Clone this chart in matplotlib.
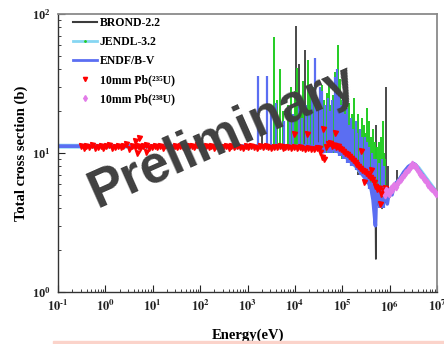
import numpy as np
import matplotlib
matplotlib.use('Agg')
import matplotlib.pyplot as plt
from matplotlib.lines import Line2D
from matplotlib.patches import Rectangle
from matplotlib.ticker import FixedFormatter

plt.rcParams['font.family'] = ['Liberation Serif', 'DejaVu Serif']
plt.rcParams['font.weight'] = 'bold'
plt.rcParams['mathtext.fontset'] = 'stix'
plt.rcParams['mathtext.default'] = 'bf'

# evaluated data, background curves (log10 E, sigma in b)
brond_logE = [-1, 4.45, 4.55, 4.65, 4.75, 4.85, 5.0, 5.1, 5.2, 5.3, 5.4, 5.5, 5.6,
              5.66, 5.70, 5.71, 5.72, 5.76, 5.80, 5.84, 5.88, 5.92, 5.96,
              6.0, 6.05, 6.1, 6.2, 6.3, 6.4, 6.48, 6.56, 6.65, 6.75, 6.85, 6.95, 7.0]
brond_xs = [11.2, 11.2, 10.5, 10.8, 10.2, 10.6, 9.8, 9.2, 8.6, 8.0, 7.3, 6.7, 6.0,
            5.5, 5.0, 1.73, 4.8, 4.2, 4.6, 4.0, 5.2, 4.4, 5.6,
            4.8, 5.8, 6.0, 6.5, 7.2, 7.9, 8.3, 8.0, 7.4, 6.6, 6.0, 5.4, 5.1]

jendl_logE = [-1, 4.5, 4.7, 4.9, 5.1, 5.3, 5.5, 5.7, 5.8, 5.9, 6.0, 6.2, 6.4, 6.5, 6.6, 6.8, 7.0]
jendl_xs = [11.2, 11.0, 10.8, 10.4, 9.3, 8.0, 6.6, 5.0, 4.6, 5.1, 5.3, 6.3, 7.9, 8.3, 7.8, 6.3, 5.1]

endf_logE = [-1, 4.30, 4.40, 4.50, 4.60, 4.70, 4.80, 4.90, 5.00,
             5.10, 5.20, 5.30, 5.40, 5.50, 5.60, 5.65, 5.70, 5.72,
             5.76, 5.80, 5.85, 5.90, 5.95, 6.00, 6.05, 6.10, 6.20,
             6.30, 6.40, 6.50, 6.55, 6.60, 6.70, 6.80, 6.90, 7.00]
endf_xs = [11.2, 11.2, 11.0, 11.6, 10.2, 11.8, 10.5, 11.6, 10.0,
           9.4, 8.6, 8.0, 7.2, 6.5, 5.8, 4.6, 3.0, 5.2,
           4.8, 5.2, 4.2, 5.4, 4.3, 5.5, 5.0, 5.9, 6.4,
           7.3, 8.0, 8.4, 8.2, 7.7, 6.9, 6.2, 5.6, 5.2]

# resonance peaks (log10 E, bottom, top)
brond_pk_logE = [3.30, 3.75, 4.02, 4.09, 4.16, 4.22, 4.31, 4.40, 4.48, 4.62, 4.70,
                 4.82, 4.95, 5.05, 5.20, 5.33, 5.48, 5.60, 5.71, 5.80, 5.92, 5.97, 6.15]
brond_pk_lo = [11, 11, 11, 11, 11, 11, 11, 11, 11, 10, 10,
               10, 10, 9, 8, 7, 6.5, 6, 5, 4.5, 5, 5, 6]
brond_pk_hi = [14, 17, 82, 44, 19, 55, 22, 19, 24, 21, 18,
               25, 16, 18, 14, 12, 11, 10, 16, 9, 30, 8, 7.5]

jendl_pk_logE = [3.55, 3.62, 3.68, 3.74, 3.85, 3.92, 4.00, 4.05, 4.12, 4.18,
                 4.27, 4.32, 4.38, 4.45, 4.52, 4.57, 4.62, 4.67, 4.71, 4.76,
                 4.80, 4.84, 4.88, 4.91, 4.95, 4.99, 5.03, 5.07, 5.11, 5.15,
                 5.20, 5.24, 5.28, 5.33, 5.37, 5.41, 5.45, 5.49, 5.53, 5.57,
                 5.61, 5.65, 5.69, 5.74, 5.78, 5.82, 5.85, 5.88, 5.91]
jendl_pk_lo = [11, 11, 11, 11, 11, 11, 11, 11, 11, 11,
               11, 11, 11, 11, 10, 10, 10, 10, 10, 10,
               10, 10, 10, 10, 10, 9, 9, 9, 9, 8.5,
               8.5, 8, 8, 7.5, 7.5, 7, 7, 6.5, 6.5, 6,
               6, 5.5, 5, 5, 4.5, 4.5, 5, 5, 5]
jendl_pk_hi = [68, 24, 40, 20, 22, 30, 28, 41, 24, 33,
               47, 26, 30, 22, 28, 31, 24, 27, 33, 22,
               26, 38, 29, 60, 34, 24, 22, 28, 20, 23,
               19, 25, 17, 19, 15, 18, 16, 14, 21, 17,
               13, 15, 12, 11, 12, 13, 17, 10, 9]

endf_pk_logE = [3.23, 3.41, 3.50, 3.60, 3.78, 3.90, 3.97, 4.08, 4.15, 4.23,
                4.30, 4.36, 4.42, 4.47, 4.53, 4.58, 4.64, 4.69, 4.74, 4.79,
                4.84, 4.88, 4.93, 4.97, 5.02, 5.06, 5.10, 5.14, 5.19, 5.23,
                5.28, 5.32, 5.37, 5.42, 5.47, 5.52, 5.57, 5.62, 5.67, 5.72,
                5.77, 5.83, 5.88]
endf_pk_lo = [11, 11, 11, 11, 11, 11, 11, 11, 11, 11,
              11, 11, 11, 11, 10, 10, 10, 10, 10, 10,
              10, 10, 9.5, 9.5, 9, 9, 8.5, 8.5, 8, 8,
              7.5, 7.5, 7, 7, 6.5, 6, 5.5, 5, 4.5, 4,
              4, 4, 4]
endf_pk_hi = [36, 36, 20, 23, 17, 21, 19, 26, 18, 22,
              20, 28, 48, 25, 30, 28, 22, 25, 20, 24,
              35, 40, 28, 22, 26, 19, 21, 16, 18, 15,
              17, 14, 15, 13, 13, 12, 11, 10, 9, 9,
              8.5, 9, 8]

# measured, 10mm Pb with 235U chamber
u235_logE = [-0.52, -0.46, -0.40, -0.34, -0.28, -0.22, -0.16, -0.10, -0.04, 0.02, 0.08, 0.14,
             0.20, 0.26, 0.32, 0.38, 0.44, 0.50, 0.56, 0.62, 0.68, 0.74, 0.80, 0.86,
             0.92, 0.98, 1.04, 1.10, 1.16, 1.22, 1.28, 1.34, 1.40, 1.46, 1.52, 1.58,
             1.64, 1.70, 1.76, 1.82, 1.88, 1.94, 2.00, 2.06, 2.12, 2.18, 2.24, 2.30,
             2.36, 2.42, 2.48, 2.54, 2.60, 2.66, 2.72, 2.78, 2.84, 2.90, 2.96, 3.02,
             3.08, 3.14, 3.20, 3.26, 3.32, 3.38, 3.44, 3.50, 3.56, 3.62, 3.68, 3.74,
             3.80, 3.86, 3.92, 3.98, 4.04, 4.10, 4.16, 4.22, 4.28, 4.34, 4.40, 4.46,
             4.50, 4.54, 4.58, 4.62, 4.66, 4.70, 4.74, 4.78, 4.82, 4.86, 4.90, 4.94,
             4.98, 5.02, 5.06, 5.10, 5.14, 5.18, 5.22, 5.26, 5.30, 5.34, 5.38, 5.42,
             5.46, 5.50, 5.54, 5.58, 5.62, 5.66, 5.70, 5.74, 5.78, 5.82, 5.86, 5.90,
             0.62, 0.70, 0.66, 0.86, 3.98, 4.25, 4.60, 4.85, 5.40, 5.60, 5.80, 5.45]
u235_xs = [11.3, 10.9, 11.2, 11.0, 11.4, 10.8, 11.1, 11.3, 10.9, 11.2, 11.5, 10.9,
           11.1, 11.3, 11.0, 11.2, 11.6, 10.7, 11.2, 11.0, 11.3, 10.9, 11.2, 11.4,
           10.8, 11.1, 11.3, 11.0, 11.2, 10.9, 11.4, 11.1, 10.9, 11.3, 11.0, 11.2,
           11.1, 10.8, 11.3, 11.2, 11.0, 11.4, 10.9, 11.1, 11.2, 11.0, 11.3, 10.9,
           11.2, 11.1, 11.0, 11.3, 10.9, 11.2, 11.0, 11.3, 11.1, 10.9, 11.2, 11.0,
           11.3, 11.1, 10.9, 11.2, 11.0, 11.2, 11.1, 10.9, 11.1, 11.0, 11.2, 10.8,
           11.0, 11.1, 10.9, 11.0, 10.8, 11.0, 10.9, 10.7, 10.8, 10.6, 10.7, 10.9,
           10.8, 10.2, 9.4, 9.0, 11.0, 11.6, 11.8, 11.2, 11.5, 11.0, 11.2, 10.8,
           10.6, 10.4, 10.0, 9.8, 9.5, 9.2, 8.9, 8.6, 8.3, 8.0, 7.8, 7.6,
           7.4, 7.2, 7.0, 6.7, 6.5, 6.2, 5.8, 5.5, 5.6, 5.1, 5.3, 5.6,
           12.3, 12.9, 10.0, 10.1, 13.8, 13.6, 15.0, 14.0, 10.4, 7.6, 4.3, 6.2]

# measured, 10mm Pb with 238U chamber
u238_logE = [5.90, 5.94, 5.98, 6.02, 6.06, 6.10, 6.14, 6.18, 6.22, 6.26, 6.30, 6.34, 6.38, 6.42,
             6.46, 6.50, 6.54, 6.58, 6.62, 6.66, 6.70, 6.74, 6.78, 6.82, 6.86, 6.90, 6.94, 6.98,
             5.92, 6.00, 6.08, 6.16, 6.24, 6.32, 6.40, 6.48, 6.56, 6.64, 6.72, 6.80, 6.88, 6.96]
u238_xs = [5.0, 5.3, 5.1, 5.6, 5.4, 5.9, 5.7, 6.2, 6.4, 6.7, 7.0, 7.3, 7.6, 7.9,
           8.1, 8.2, 8.0, 7.7, 7.3, 7.0, 6.7, 6.4, 6.2, 5.9, 5.7, 5.5, 5.3, 5.1,
           5.4, 5.3, 5.8, 6.0, 6.5, 7.2, 7.7, 8.4, 7.9, 7.1, 6.5, 6.0, 5.6, 5.2]

xtick_labels = [r'$10^{\text{-}1}$', r'$10^{0}$', r'$10^{1}$', r'$10^{2}$', r'$10^{3}$',
                r'$10^{4}$', r'$10^{5}$', r'$10^{6}$', r'$10^{7}$']
legend_labels = ['BROND-2.2', 'JENDL-3.2', 'ENDF/B-V', '10mm Pb(²³⁵U)', '10mm Pb(²³⁸U)']

c_brond = '#3c3c3c'
c_jendl = '#86d6f2'
c_jgreen = '#22cc22'
c_endf = '#5b6ef2'
c_u235 = '#ff0000'
c_u238 = '#e27be8'

fig = plt.figure(figsize=(4.44, 3.44), dpi=100)
ax = fig.add_axes([58/444, 52/344, 379/444, 278/344])

E = lambda l: 10.0 ** np.array(l)

ax.plot(E(brond_logE), brond_xs, color=c_brond, lw=1.3, zorder=2)
ax.vlines(E(brond_pk_logE), brond_pk_lo, brond_pk_hi, color=c_brond, lw=1.3, zorder=2)
ax.plot(E(jendl_logE), jendl_xs, color=c_jendl, lw=3.5, zorder=2.2)
ax.vlines(E(jendl_pk_logE), jendl_pk_lo, jendl_pk_hi, color=c_jgreen, lw=1.4, zorder=2.3)
ax.plot(E(endf_logE), endf_xs, color=c_endf, lw=2.6, zorder=2.5)
ax.vlines(E(endf_pk_logE), endf_pk_lo, endf_pk_hi, color=c_endf, lw=1.6, zorder=2.5)

ax.plot(E(u235_logE), u235_xs, ls='none', marker='v', ms=3.6, color=c_u235, mec=c_u235, zorder=4)
ax.plot(E(u238_logE), u238_xs, ls='none', marker='d', ms=3.4, color=c_u238, mec=c_u238, zorder=4)

ax.set_xscale('log')
ax.set_yscale('log')
ax.set_xlim(1e-1, 1e7)
ax.set_ylim(1, 100)
ax.set_xticks([10.0 ** k for k in range(-1, 8)])
ax.xaxis.set_major_formatter(FixedFormatter(xtick_labels))

for s in ['left', 'bottom']:
    ax.spines[s].set_color('#333333')
    ax.spines[s].set_linewidth(1.0)
for s in ['top', 'right']:
    ax.spines[s].set_color('#8a8a8a')
    ax.spines[s].set_linewidth(1.3)

ax.tick_params(which='both', direction='in', top=False, right=False, labelsize=9, colors='#222222')
ax.tick_params(which='major', length=5, pad=5)
ax.tick_params(which='minor', length=2.5)

ax.set_xlabel('Energy(eV)', fontsize=10.5, fontweight='bold', labelpad=10)
ax.set_ylabel('Total cross section (b)', fontsize=10.5, fontweight='bold', labelpad=3)

handles = [
    Line2D([], [], color=c_brond, lw=1.5),
    Line2D([], [], color=c_jendl, lw=2, marker='.', ms=2, mfc=c_jgreen, mec=c_jgreen),
    Line2D([], [], color=c_endf, lw=2),
    Line2D([], [], ls='none', marker='v', ms=3, color=c_u235),
    Line2D([], [], ls='none', marker='d', ms=3, color=c_u238),
]
ax.legend(handles, legend_labels, loc='upper left', bbox_to_anchor=(0.04, 0.99),
          frameon=False, borderpad=0, borderaxespad=0,
          fontsize=8.5, handlelength=2.0, handletextpad=0.25, labelspacing=0.6, numpoints=1)

fig.text(222/444, 1 - 137/344, 'Preliminary', rotation=24, fontsize=38,
         family='Liberation Sans', weight='bold', color='#404040',
         ha='center', va='center', rotation_mode='anchor', zorder=10)

fig.patches.append(Rectangle((53/444, 0), 391/444, 3/344, transform=fig.transFigure,
                             color='#fbd3ca', zorder=0))

fig.savefig('out.png', dpi=100)
